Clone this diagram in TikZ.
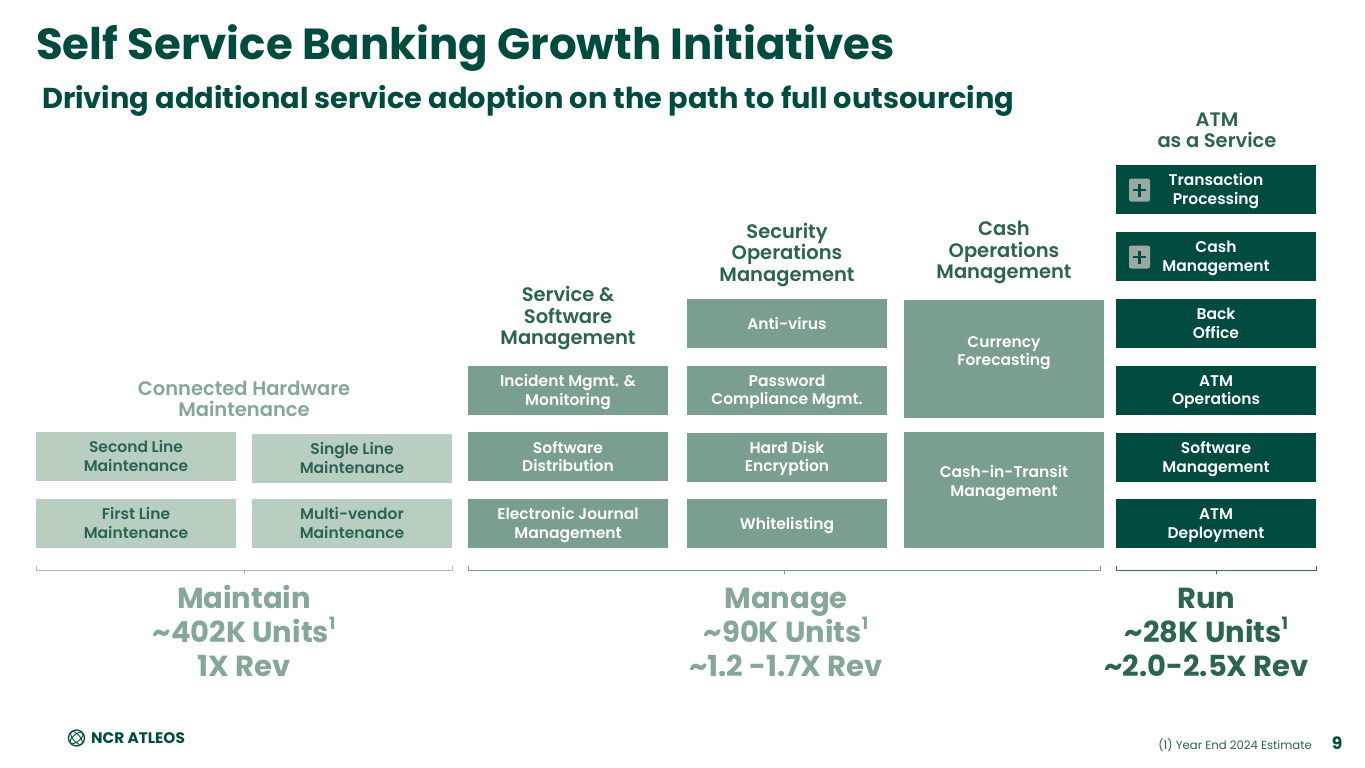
\documentclass[tikz,border=0pt]{standalone}
\usepackage{fontspec}
\setmainfont{Poppins}[BoldFont={Poppins SemiBold},Ligatures=TeXReset]
\newfontfamily\heavy{Poppins}[BoldFont={Poppins Bold},Ligatures=TeXReset]
\definecolor{cDark}{HTML}{004B3F}
\definecolor{cMid}{HTML}{7A9F8E}
\definecolor{cLight}{HTML}{B8CFC0}
\definecolor{cTxtL}{HTML}{2C6351}
\definecolor{cHead}{HTML}{2C6351}
\definecolor{cHeadL}{HTML}{84A797}
\definecolor{cPlus}{HTML}{9AAAA2}
\tikzset{
 x=1pt,y=-1pt,
 boxbase/.style={inner sep=0pt,outer sep=0pt},
 darkbox/.style={boxbase,fill=cDark},
 midbox/.style={boxbase,fill=cMid},
 lightbox/.style={boxbase,fill=cLight},
 boxtext/.style={inner sep=0pt,align=center,text=white,font=\bfseries\fontsize{15.5}{18.6}\selectfont},
 lighttext/.style={boxtext,text=cTxtL},
 head/.style={align=center,inner sep=0pt,font=\bfseries\fontsize{19.5}{21.5}\selectfont,text=cHead},
 big/.style={align=center,inner sep=0pt,font=\heavy\bfseries\fontsize{29}{34}\selectfont},
 brk/.style={line width=0.8pt},
 plusbox/.style={fill=cPlus,rounded corners=2pt,minimum width=21pt,minimum height=23pt,inner sep=0pt,outer sep=0pt},
}
% \bx[text shift]{name}{x1}{y1}{x2}{y2}{box style}{text}; optional text style via \bxstyle
\newcommand{\bxstyle}{boxtext}
\newcommand{\bx}[8][0]{%
 \node[#7,minimum width=#5 pt-#3 pt,minimum height=#6 pt-#4 pt] (#2) at ({(#3+#5)/2},{(#4+#6)/2}) {};
 \node[\bxstyle] (#2t) at ([yshift=-#1 pt]#2.center) {#8};}
\newcommand{\brkt}[5]{%
 \coordinate (#1l) at (#2,570); \coordinate (#1r) at (#3,570); \coordinate (#1c) at (#4,570);
 \draw[brk,#5] (#1l) ++(0,-4) -- (#1l) -- (#1r) -- ++(0,-4);
 \draw[brk,#5] (#1c) -- ++(0,4);}
\begin{document}
\begin{tikzpicture}
\useasboundingbox[fill=white] (0,0) rectangle (1365,768);
\node[anchor=west,inner sep=0pt,text=cDark,font=\heavy\bfseries\fontsize{43.5}{48}\selectfont] (title) at (36,48) {Self Service Banking Growth Initiatives};
\node[anchor=west,inner sep=0pt,text=cDark,font=\heavy\bfseries\fontsize{28.8}{32}\selectfont] (sub) at (42,101) {Driving additional service adoption on the path to full outsourcing};

% maintain
\renewcommand{\bxstyle}{lighttext}
\bx[-0.5]{a1}{36}{432}{236}{481}{lightbox}{Second Line\\Maintenance}
\bx[-0.5]{a2}{36}{499}{236}{548}{lightbox}{First Line\\Maintenance}
\bx[-0.5]{b1}{252}{434}{452}{483}{lightbox}{Single Line\\Maintenance}
\bx[-0.5]{b2}{252}{499}{452}{548}{lightbox}{Multi-vendor\\Maintenance}
\node[head,text=cHeadL] (hA) at (244,399) {Connected Hardware\\Maintenance};
% service
\renewcommand{\bxstyle}{boxtext}
\bx[1.5]{c1}{468}{366}{668}{415}{midbox}{Incident Mgmt. \&\\Monitoring}
\bx{c2}{468}{432}{668}{481}{midbox}{Software\\Distribution}
\bx[1.5]{c3}{468}{499}{668}{548}{midbox}{Electronic Journal\\Management}
\node[head] (hC) at (568,318.5) {Service \&\\Software\\Management};
% security
\bx{d1}{687}{299}{887}{348}{midbox}{Anti-virus}
\bx[1.5]{d2}{687}{366}{887}{415}{midbox}{Password\\Compliance Mgmt.}
\bx[1]{d3}{687}{433}{887}{482}{midbox}{Hard Disk\\Encryption}
\bx[2]{d4}{687}{499}{887}{548}{midbox}{Whitelisting}
\node[head] (hD) at (787,255) {Security\\Operations\\Management};
% cash
\bx[-6]{e1}{904}{300}{1104}{418}{midbox}{Currency\\Forecasting}
\bx[-7]{e2}{904}{432}{1104}{548}{midbox}{Cash-in-Transit\\Management}
\node[head] (hE) at (1004,252.5) {Cash\\Operations\\Management};
% atm
\bx[1.5]{f1}{1116}{165}{1316}{214}{darkbox}{Transaction\\Processing}
\bx[2]{f2}{1116}{232}{1316}{281}{darkbox}{Cash\\Management}
\bx{f3}{1116}{299}{1316}{348}{darkbox}{Back\\Office}
\bx[1.5]{f4}{1116}{366}{1316}{415}{darkbox}{ATM\\Operations}
\bx[1.5]{f5}{1116}{433}{1316}{482}{darkbox}{Software\\Management}
\bx[2]{f6}{1116}{499}{1316}{548}{darkbox}{ATM\\Deployment}
\node[head] (hF) at (1217,130.5) {ATM\\as a Service};
\node[plusbox] (p1) at (1139.5,190) {};
\node[plusbox] (p2) at (1139.5,257) {};
\foreach \p in {p1,p2}{\draw[cDark,line width=2.2pt] (\p.center) ++(-6.5,0) -- ++(13,0) (\p.center) ++(0,-6.5) -- ++(0,13);}

% brackets
\brkt{m}{36}{452}{244}{cLight!75!gray}
\brkt{n}{468}{1100}{784}{cMid}
\brkt{r}{1116}{1316}{1216}{cHead!80!gray}

\newcommand{\supone}{\raisebox{0.45em}{\fontsize{17}{17}\selectfont 1}}
\node[big,text=cHeadL] (tM) at (244,631) {Maintain\\\textasciitilde402K Units\supone\\1X Rev};
\node[big,text=cHeadL] (tN) at (786,632) {Manage\\\textasciitilde90K Units\supone\\\textasciitilde1.2 -1.7X Rev};
\node[big,text=cHead] (tR) at (1206.5,632) {Run\\\textasciitilde28K Units\supone\\\textasciitilde2.0-2.5X Rev};

% footer
\node[circle,draw=cDark,line width=1.3pt,minimum size=16pt,inner sep=0pt] (globe) at (76.5,738) {};
\draw[cDark,line width=0.9pt,rotate around={40:(globe.center)}] (globe.center) ellipse (8 and 3.5);
\draw[cDark,line width=0.9pt,rotate around={40:(globe.center)}] (globe.center) ellipse (3.5 and 8);
\node[anchor=west,inner sep=0pt,text=cDark,font=\heavy\bfseries\fontsize{15.3}{16}\selectfont] (logo) at (91,738.5) {NCR ATLEOS};
\node[anchor=east,inner sep=0pt,text=cHead,font=\fontsize{11.7}{14}\selectfont] (note) at (1312,745) {(1) Year End 2024 Estimate};
\node[anchor=center,inner sep=0pt,text=cDark,font=\heavy\bfseries\fontsize{17}{18}\selectfont] (pg) at (1337,743) {9};
\end{tikzpicture}
\end{document}
